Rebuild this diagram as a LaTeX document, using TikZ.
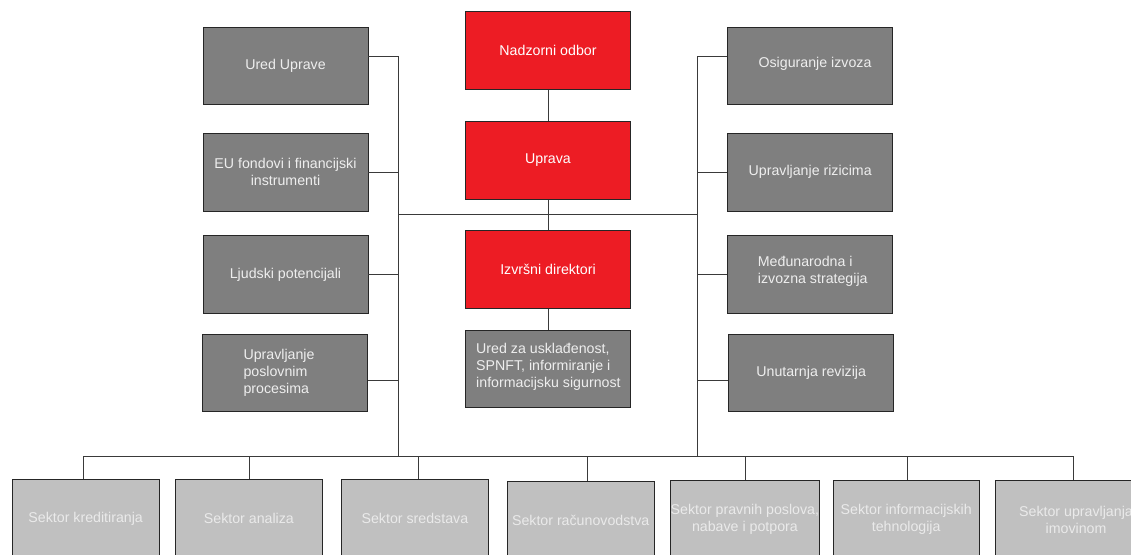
\documentclass[tikz,border=0pt]{standalone}
\usepackage{fontspec}
\setmainfont{Liberation Sans}
\definecolor{redbox}{HTML}{ED1C24}
\definecolor{graybox}{HTML}{7F7F7F}
\definecolor{lightbox}{HTML}{C0C0C0}
\definecolor{linec}{HTML}{3A3A3A}
\definecolor{txtlight}{HTML}{EEEEEE}
\definecolor{txtsect}{HTML}{EAEAEA}
\begin{document}
\begin{tikzpicture}[x=1pt,y=-1pt,
  box/.style={draw=black!85, line width=0.8pt, minimum width=165pt, minimum height=77.5pt,
              inner sep=0pt, font=\fontsize{14.2}{17}\selectfont, align=center},
  redb/.style={box, fill=redbox, text=white},
  grayb/.style={box, fill=graybox, text=txtlight},
  sect/.style={box, fill=lightbox, text=txtsect, minimum width=146.5pt, minimum height=78pt},
  lbl/.style={font=\fontsize{14.2}{17}\selectfont, text=txtlight, align=left, inner sep=0pt},
  conn/.style={draw=linec, line width=0.9pt}]
\useasboundingbox (0,0) rectangle (1131,554);
\clip (0,0) rectangle (1131,554);
\fill[white] (0,0) rectangle (1131,554);

% centre column
\node[redb] (nad) at (548,50.5) {Nadzorni odbor};
\node[redb] (upr) at (548,160.5) {Uprava};
\node[redb] (izv) at (548,269.6) {Izvršni direktori};
\node[grayb, minimum height=77.3pt] (comp) at (548,368.6) {};
\node[lbl, anchor=west] (comp-t) at (476,366.7) {Ured za usklađenost,\\SPNFT, informiranje i\\informacijsku sigurnost};

% left column
\node[grayb] (uu) at (285.5,66.1) {Ured Uprave};
\node[grayb] (eu) at (285.5,172.2) {EU fondovi i financijski\\instrumenti};
\node[grayb] (lj) at (285.5,274.5) {Ljudski potencijali};
\node[grayb] (upp) at (284.7,373) {};
\node[lbl, anchor=west] (upp-t) at (243.3,372.9) {Upravljanje\\poslovnim\\procesima};

% right column
\node[grayb] (osi) at (810.2,66.1) {};
\node[lbl, text=txtlight] (osi-t) at (815,64.3) {Osiguranje izvoza};
\node[grayb] (riz) at (810.2,172.2) {Upravljanje rizicima};
\node[grayb] (med) at (810.2,274.5) {};
\node[lbl, anchor=west] (med-t) at (757.7,271.3) {Međunarodna i\\izvozna strategija};
\node[grayb] (unu) at (811.2,373) {Unutarnja revizija};

% sectors
\node[sect] (s1) at (85.7,518.5) {Sektor kreditiranja};
\node[sect] (s2) at (248.9,518.5) {Sektor analiza};
\node[sect] (s3) at (414.9,518.5) {Sektor sredstava};
\node[sect] (s4) at (580.7,520) {Sektor računovodstva};
\node[sect] (s5) at (744.9,519.5) {Sektor pravnih poslova,\\nabave i potpora};
\node[sect] (s6) at (906.2,519.5) {Sektor informacijskih\\tehnologija};
\node[sect, minimum width=162pt] (s7) at (1076,519.5) {Sektor upravljanja\\imovinom};

% trunk coordinates
\coordinate (lt) at (398.5,56.7);
\coordinate (lb) at (398.5,456.7);
\coordinate (rt) at (697.3,56.7);
\coordinate (rb) at (697.3,456.7);
\coordinate (l4) at (398.5,380);
\coordinate (r4) at (697.3,380);
\coordinate (ml) at (398.5,214);
\coordinate (mr) at (697.3,214);

% left trunk
\draw[conn] (lt -| uu.east) -- (lt) -- (lb);
\draw[conn] (eu.east) -- (eu.east -| lt);
\draw[conn] (lj.east) -- (lj.east -| lt);
\draw[conn] (l4 -| upp.east) -- (l4);

% right trunk
\draw[conn] (rt -| osi.west) -- (rt) -- (rb);
\draw[conn] (riz.west) -- (riz.west -| rt);
\draw[conn] (med.west) -- (med.west -| rt);
\draw[conn] (r4 -| unu.west) -- (r4);

% middle
\draw[conn] (ml) -- (mr);
\draw[conn] (nad) -- (upr);
\draw[conn] (upr) -- (izv);
\draw[conn] (izv) -- (comp);

% bottom bus
\coordinate (b1) at (83.3,456.7);
\coordinate (b2) at (249.3,456.7);
\coordinate (b3) at (418.3,456.7);
\coordinate (b4) at (587,456.7);
\coordinate (b5) at (745.7,456.7);
\coordinate (b6) at (907.3,456.7);
\coordinate (b7) at (1073.7,456.7);
\draw[conn] (b1) -- (b7);
\draw[conn] (b1) -- (b1 |- s1.north);
\draw[conn] (b2) -- (b2 |- s2.north);
\draw[conn] (b3) -- (b3 |- s3.north);
\draw[conn] (b4) -- (b4 |- s4.north);
\draw[conn] (b5) -- (b5 |- s5.north);
\draw[conn] (b6) -- (b6 |- s6.north);
\draw[conn] (b7) -- (b7 |- s7.north);
\end{tikzpicture}
\end{document}
